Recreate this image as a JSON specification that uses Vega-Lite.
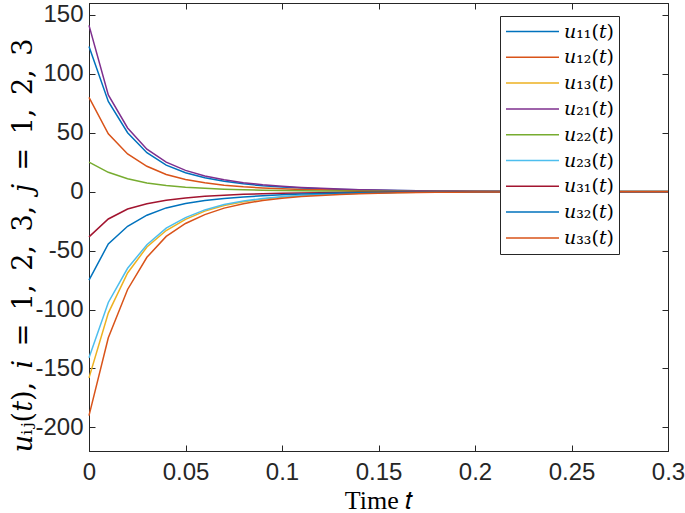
{
  "$schema": "https://vega.github.io/schema/vega-lite/v6.json",
  "width": 579,
  "height": 448,
  "autosize": "none",
  "padding": {"left": 89, "top": 3, "right": 17, "bottom": 62},
  "background": "white",
  "config": {
    "view": {"stroke": "#262626", "strokeWidth": 1},
    "axis": {
      "grid": false,
      "domainColor": "#262626",
      "tickColor": "#262626",
      "labelColor": "#262626",
      "labelFont": "Liberation Sans",
      "labelFontSize": 24,
      "labelFlush": false,
      "tickSize": -6,
      "titleFontWeight": "normal",
      "titleColor": "#000000"
    }
  },
  "data": {"values": [
    {"t":0,"s":"𝑢₁₁(𝑡)","v":123},{"t":0.01,"s":"𝑢₁₁(𝑡)","v":76.5},{"t":0.02,"s":"𝑢₁₁(𝑡)","v":50},{"t":0.03,"s":"𝑢₁₁(𝑡)","v":33},{"t":0.04,"s":"𝑢₁₁(𝑡)","v":22.5},{"t":0.05,"s":"𝑢₁₁(𝑡)","v":16},{"t":0.06,"s":"𝑢₁₁(𝑡)","v":11.8},{"t":0.07,"s":"𝑢₁₁(𝑡)","v":8.8},{"t":0.08,"s":"𝑢₁₁(𝑡)","v":6.6},{"t":0.09,"s":"𝑢₁₁(𝑡)","v":5.0},{"t":0.1,"s":"𝑢₁₁(𝑡)","v":3.9},{"t":0.11,"s":"𝑢₁₁(𝑡)","v":3.0},{"t":0.12,"s":"𝑢₁₁(𝑡)","v":2.4},{"t":0.13,"s":"𝑢₁₁(𝑡)","v":1.9},{"t":0.14,"s":"𝑢₁₁(𝑡)","v":1.5},{"t":0.15,"s":"𝑢₁₁(𝑡)","v":1.1},{"t":0.16,"s":"𝑢₁₁(𝑡)","v":0.9},{"t":0.17,"s":"𝑢₁₁(𝑡)","v":0.7},{"t":0.18,"s":"𝑢₁₁(𝑡)","v":0.5},{"t":0.19,"s":"𝑢₁₁(𝑡)","v":0.4},{"t":0.2,"s":"𝑢₁₁(𝑡)","v":0.3},{"t":0.25,"s":"𝑢₁₁(𝑡)","v":0.1},{"t":0.3,"s":"𝑢₁₁(𝑡)","v":0.05},
    {"t":0,"s":"𝑢₁₂(𝑡)","v":80},{"t":0.01,"s":"𝑢₁₂(𝑡)","v":49},{"t":0.02,"s":"𝑢₁₂(𝑡)","v":32},{"t":0.03,"s":"𝑢₁₂(𝑡)","v":21.5},{"t":0.04,"s":"𝑢₁₂(𝑡)","v":14.5},{"t":0.05,"s":"𝑢₁₂(𝑡)","v":10.3},{"t":0.06,"s":"𝑢₁₂(𝑡)","v":7.5},{"t":0.07,"s":"𝑢₁₂(𝑡)","v":5.5},{"t":0.08,"s":"𝑢₁₂(𝑡)","v":4.1},{"t":0.09,"s":"𝑢₁₂(𝑡)","v":3.1},{"t":0.1,"s":"𝑢₁₂(𝑡)","v":2.4},{"t":0.11,"s":"𝑢₁₂(𝑡)","v":1.9},{"t":0.12,"s":"𝑢₁₂(𝑡)","v":1.5},{"t":0.13,"s":"𝑢₁₂(𝑡)","v":1.2},{"t":0.14,"s":"𝑢₁₂(𝑡)","v":0.9},{"t":0.15,"s":"𝑢₁₂(𝑡)","v":0.7},{"t":0.16,"s":"𝑢₁₂(𝑡)","v":0.55},{"t":0.17,"s":"𝑢₁₂(𝑡)","v":0.45},{"t":0.18,"s":"𝑢₁₂(𝑡)","v":0.35},{"t":0.19,"s":"𝑢₁₂(𝑡)","v":0.3},{"t":0.2,"s":"𝑢₁₂(𝑡)","v":0.25},{"t":0.25,"s":"𝑢₁₂(𝑡)","v":0.1},{"t":0.3,"s":"𝑢₁₂(𝑡)","v":0.05},
    {"t":0,"s":"𝑢₁₃(𝑡)","v":-158},{"t":0.01,"s":"𝑢₁₃(𝑡)","v":-103},{"t":0.02,"s":"𝑢₁₃(𝑡)","v":-69},{"t":0.03,"s":"𝑢₁₃(𝑡)","v":-47},{"t":0.04,"s":"𝑢₁₃(𝑡)","v":-33},{"t":0.05,"s":"𝑢₁₃(𝑡)","v":-23.5},{"t":0.06,"s":"𝑢₁₃(𝑡)","v":-16.5},{"t":0.07,"s":"𝑢₁₃(𝑡)","v":-11.8},{"t":0.08,"s":"𝑢₁₃(𝑡)","v":-8.5},{"t":0.09,"s":"𝑢₁₃(𝑡)","v":-6.2},{"t":0.1,"s":"𝑢₁₃(𝑡)","v":-4.6},{"t":0.11,"s":"𝑢₁₃(𝑡)","v":-3.4},{"t":0.12,"s":"𝑢₁₃(𝑡)","v":-2.5},{"t":0.13,"s":"𝑢₁₃(𝑡)","v":-1.9},{"t":0.14,"s":"𝑢₁₃(𝑡)","v":-1.4},{"t":0.15,"s":"𝑢₁₃(𝑡)","v":-1.05},{"t":0.16,"s":"𝑢₁₃(𝑡)","v":-0.8},{"t":0.17,"s":"𝑢₁₃(𝑡)","v":-0.6},{"t":0.18,"s":"𝑢₁₃(𝑡)","v":-0.45},{"t":0.19,"s":"𝑢₁₃(𝑡)","v":-0.35},{"t":0.2,"s":"𝑢₁₃(𝑡)","v":-0.3},{"t":0.25,"s":"𝑢₁₃(𝑡)","v":-0.1},{"t":0.3,"s":"𝑢₁₃(𝑡)","v":-0.05},
    {"t":0,"s":"𝑢₂₁(𝑡)","v":141},{"t":0.01,"s":"𝑢₂₁(𝑡)","v":82},{"t":0.02,"s":"𝑢₂₁(𝑡)","v":54},{"t":0.03,"s":"𝑢₂₁(𝑡)","v":36},{"t":0.04,"s":"𝑢₂₁(𝑡)","v":25},{"t":0.05,"s":"𝑢₂₁(𝑡)","v":18},{"t":0.06,"s":"𝑢₂₁(𝑡)","v":13.3},{"t":0.07,"s":"𝑢₂₁(𝑡)","v":10},{"t":0.08,"s":"𝑢₂₁(𝑡)","v":7.6},{"t":0.09,"s":"𝑢₂₁(𝑡)","v":5.8},{"t":0.1,"s":"𝑢₂₁(𝑡)","v":4.5},{"t":0.11,"s":"𝑢₂₁(𝑡)","v":3.5},{"t":0.12,"s":"𝑢₂₁(𝑡)","v":2.8},{"t":0.13,"s":"𝑢₂₁(𝑡)","v":2.2},{"t":0.14,"s":"𝑢₂₁(𝑡)","v":1.7},{"t":0.15,"s":"𝑢₂₁(𝑡)","v":1.3},{"t":0.16,"s":"𝑢₂₁(𝑡)","v":1.0},{"t":0.17,"s":"𝑢₂₁(𝑡)","v":0.8},{"t":0.18,"s":"𝑢₂₁(𝑡)","v":0.6},{"t":0.19,"s":"𝑢₂₁(𝑡)","v":0.5},{"t":0.2,"s":"𝑢₂₁(𝑡)","v":0.4},{"t":0.25,"s":"𝑢₂₁(𝑡)","v":0.15},{"t":0.3,"s":"𝑢₂₁(𝑡)","v":0.05},
    {"t":0,"s":"𝑢₂₂(𝑡)","v":25},{"t":0.01,"s":"𝑢₂₂(𝑡)","v":16.4},{"t":0.02,"s":"𝑢₂₂(𝑡)","v":11},{"t":0.03,"s":"𝑢₂₂(𝑡)","v":7.3},{"t":0.04,"s":"𝑢₂₂(𝑡)","v":5.2},{"t":0.05,"s":"𝑢₂₂(𝑡)","v":3.8},{"t":0.06,"s":"𝑢₂₂(𝑡)","v":2.8},{"t":0.07,"s":"𝑢₂₂(𝑡)","v":2.1},{"t":0.08,"s":"𝑢₂₂(𝑡)","v":1.6},{"t":0.09,"s":"𝑢₂₂(𝑡)","v":1.2},{"t":0.1,"s":"𝑢₂₂(𝑡)","v":0.9},{"t":0.11,"s":"𝑢₂₂(𝑡)","v":0.7},{"t":0.12,"s":"𝑢₂₂(𝑡)","v":0.55},{"t":0.13,"s":"𝑢₂₂(𝑡)","v":0.45},{"t":0.14,"s":"𝑢₂₂(𝑡)","v":0.35},{"t":0.15,"s":"𝑢₂₂(𝑡)","v":0.3},{"t":0.16,"s":"𝑢₂₂(𝑡)","v":0.25},{"t":0.17,"s":"𝑢₂₂(𝑡)","v":0.2},{"t":0.18,"s":"𝑢₂₂(𝑡)","v":0.15},{"t":0.19,"s":"𝑢₂₂(𝑡)","v":0.1},{"t":0.2,"s":"𝑢₂₂(𝑡)","v":0.1},{"t":0.25,"s":"𝑢₂₂(𝑡)","v":0.05},{"t":0.3,"s":"𝑢₂₂(𝑡)","v":0.02},
    {"t":0,"s":"𝑢₂₃(𝑡)","v":-141},{"t":0.01,"s":"𝑢₂₃(𝑡)","v":-94},{"t":0.02,"s":"𝑢₂₃(𝑡)","v":-65},{"t":0.03,"s":"𝑢₂₃(𝑡)","v":-45},{"t":0.04,"s":"𝑢₂₃(𝑡)","v":-31},{"t":0.05,"s":"𝑢₂₃(𝑡)","v":-22},{"t":0.06,"s":"𝑢₂₃(𝑡)","v":-15.5},{"t":0.07,"s":"𝑢₂₃(𝑡)","v":-11},{"t":0.08,"s":"𝑢₂₃(𝑡)","v":-8},{"t":0.09,"s":"𝑢₂₃(𝑡)","v":-5.8},{"t":0.1,"s":"𝑢₂₃(𝑡)","v":-4.3},{"t":0.11,"s":"𝑢₂₃(𝑡)","v":-3.2},{"t":0.12,"s":"𝑢₂₃(𝑡)","v":-2.4},{"t":0.13,"s":"𝑢₂₃(𝑡)","v":-1.8},{"t":0.14,"s":"𝑢₂₃(𝑡)","v":-1.35},{"t":0.15,"s":"𝑢₂₃(𝑡)","v":-1.0},{"t":0.16,"s":"𝑢₂₃(𝑡)","v":-0.8},{"t":0.17,"s":"𝑢₂₃(𝑡)","v":-0.6},{"t":0.18,"s":"𝑢₂₃(𝑡)","v":-0.45},{"t":0.19,"s":"𝑢₂₃(𝑡)","v":-0.35},{"t":0.2,"s":"𝑢₂₃(𝑡)","v":-0.3},{"t":0.25,"s":"𝑢₂₃(𝑡)","v":-0.1},{"t":0.3,"s":"𝑢₂₃(𝑡)","v":-0.05},
    {"t":0,"s":"𝑢₃₁(𝑡)","v":-38.4},{"t":0.01,"s":"𝑢₃₁(𝑡)","v":-23.2},{"t":0.02,"s":"𝑢₃₁(𝑡)","v":-14.7},{"t":0.03,"s":"𝑢₃₁(𝑡)","v":-10.2},{"t":0.04,"s":"𝑢₃₁(𝑡)","v":-7.3},{"t":0.05,"s":"𝑢₃₁(𝑡)","v":-5.4},{"t":0.06,"s":"𝑢₃₁(𝑡)","v":-4.0},{"t":0.07,"s":"𝑢₃₁(𝑡)","v":-3.0},{"t":0.08,"s":"𝑢₃₁(𝑡)","v":-2.3},{"t":0.09,"s":"𝑢₃₁(𝑡)","v":-1.8},{"t":0.1,"s":"𝑢₃₁(𝑡)","v":-1.4},{"t":0.11,"s":"𝑢₃₁(𝑡)","v":-1.1},{"t":0.12,"s":"𝑢₃₁(𝑡)","v":-0.9},{"t":0.13,"s":"𝑢₃₁(𝑡)","v":-0.7},{"t":0.14,"s":"𝑢₃₁(𝑡)","v":-0.55},{"t":0.15,"s":"𝑢₃₁(𝑡)","v":-0.45},{"t":0.16,"s":"𝑢₃₁(𝑡)","v":-0.35},{"t":0.17,"s":"𝑢₃₁(𝑡)","v":-0.3},{"t":0.18,"s":"𝑢₃₁(𝑡)","v":-0.25},{"t":0.19,"s":"𝑢₃₁(𝑡)","v":-0.2},{"t":0.2,"s":"𝑢₃₁(𝑡)","v":-0.15},{"t":0.25,"s":"𝑢₃₁(𝑡)","v":-0.05},{"t":0.3,"s":"𝑢₃₁(𝑡)","v":-0.02},
    {"t":0,"s":"𝑢₃₂(𝑡)","v":-75},{"t":0.01,"s":"𝑢₃₂(𝑡)","v":-44.4},{"t":0.02,"s":"𝑢₃₂(𝑡)","v":-29.4},{"t":0.03,"s":"𝑢₃₂(𝑡)","v":-20},{"t":0.04,"s":"𝑢₃₂(𝑡)","v":-13.8},{"t":0.05,"s":"𝑢₃₂(𝑡)","v":-10.0},{"t":0.06,"s":"𝑢₃₂(𝑡)","v":-7.5},{"t":0.07,"s":"𝑢₃₂(𝑡)","v":-5.8},{"t":0.08,"s":"𝑢₃₂(𝑡)","v":-4.5},{"t":0.09,"s":"𝑢₃₂(𝑡)","v":-3.5},{"t":0.1,"s":"𝑢₃₂(𝑡)","v":-2.7},{"t":0.11,"s":"𝑢₃₂(𝑡)","v":-2.1},{"t":0.12,"s":"𝑢₃₂(𝑡)","v":-1.6},{"t":0.13,"s":"𝑢₃₂(𝑡)","v":-1.25},{"t":0.14,"s":"𝑢₃₂(𝑡)","v":-0.95},{"t":0.15,"s":"𝑢₃₂(𝑡)","v":-0.75},{"t":0.16,"s":"𝑢₃₂(𝑡)","v":-0.6},{"t":0.17,"s":"𝑢₃₂(𝑡)","v":-0.45},{"t":0.18,"s":"𝑢₃₂(𝑡)","v":-0.35},{"t":0.19,"s":"𝑢₃₂(𝑡)","v":-0.3},{"t":0.2,"s":"𝑢₃₂(𝑡)","v":-0.25},{"t":0.25,"s":"𝑢₃₂(𝑡)","v":-0.1},{"t":0.3,"s":"𝑢₃₂(𝑡)","v":-0.05},
    {"t":0,"s":"𝑢₃₃(𝑡)","v":-190},{"t":0.01,"s":"𝑢₃₃(𝑡)","v":-124},{"t":0.02,"s":"𝑢₃₃(𝑡)","v":-83},{"t":0.03,"s":"𝑢₃₃(𝑡)","v":-55.7},{"t":0.04,"s":"𝑢₃₃(𝑡)","v":-38},{"t":0.05,"s":"𝑢₃₃(𝑡)","v":-27},{"t":0.06,"s":"𝑢₃₃(𝑡)","v":-19.5},{"t":0.07,"s":"𝑢₃₃(𝑡)","v":-14},{"t":0.08,"s":"𝑢₃₃(𝑡)","v":-10.2},{"t":0.09,"s":"𝑢₃₃(𝑡)","v":-7.5},{"t":0.1,"s":"𝑢₃₃(𝑡)","v":-5.6},{"t":0.11,"s":"𝑢₃₃(𝑡)","v":-4.2},{"t":0.12,"s":"𝑢₃₃(𝑡)","v":-3.2},{"t":0.13,"s":"𝑢₃₃(𝑡)","v":-2.4},{"t":0.14,"s":"𝑢₃₃(𝑡)","v":-1.8},{"t":0.15,"s":"𝑢₃₃(𝑡)","v":-1.35},{"t":0.16,"s":"𝑢₃₃(𝑡)","v":-1.0},{"t":0.17,"s":"𝑢₃₃(𝑡)","v":-0.75},{"t":0.18,"s":"𝑢₃₃(𝑡)","v":-0.55},{"t":0.19,"s":"𝑢₃₃(𝑡)","v":-0.45},{"t":0.2,"s":"𝑢₃₃(𝑡)","v":-0.35},{"t":0.25,"s":"𝑢₃₃(𝑡)","v":-0.15},{"t":0.3,"s":"𝑢₃₃(𝑡)","v":-0.05}
  ]},
  "layer": [
    {
      "mark": {"type": "line", "strokeWidth": 1.5},
      "encoding": {
        "x": {"field": "t", "type": "quantitative", "title": "Time 𝑡",
              "scale": {"domain": [0, 0.3], "nice": false},
              "axis": {"values": [0, 0.05, 0.1, 0.15, 0.2, 0.25, 0.3], "format": "~g", "labelPadding": 15,
                       "titleFont": "Liberation Serif", "titleFontSize": 26, "titleY": 57, "titleBaseline": "alphabetic"}},
        "y": {"field": "v", "type": "quantitative", "title": "𝑢ᵢⱼ(𝑡),\u2002𝑖\u2002=\u20021,\u20022,\u20023,\u2002𝑗\u2002=\u20021,\u20022,\u20023",
              "scale": {"domain": [-220, 160], "nice": false, "zero": false},
              "axis": {"values": [-200, -150, -100, -50, 0, 50, 100, 150], "labelExpr": "'' + datum.value", "labelPadding": 12,
                       "titleFont": "DejaVu Serif", "titleFontSize": 27, "titleX": -58, "titleY": 242, "titleBaseline": "alphabetic", "titleAngle": 270}},
        "color": {"field": "s", "type": "nominal",
                  "scale": {"domain": ["𝑢₁₁(𝑡)","𝑢₁₂(𝑡)","𝑢₁₃(𝑡)","𝑢₂₁(𝑡)","𝑢₂₂(𝑡)","𝑢₂₃(𝑡)","𝑢₃₁(𝑡)","𝑢₃₂(𝑡)","𝑢₃₃(𝑡)"],
                            "range": ["#0072BD","#D95319","#EDB120","#7E2F8E","#77AC30","#4DBEEE","#A2142F","#0072BD","#D95319"]},
                  "legend": {"orient": "none", "legendX": 411, "legendY": 13, "title": null,
                             "symbolType": "stroke", "symbolSize": 2809, "symbolStrokeWidth": 1.5,
                             "clipHeight": 21, "rowPadding": 4.8, "padding": 5,
                             "strokeColor": "#262626", "fillColor": "white", "cornerRadius": 0,
                             "labelFont": "DejaVu Serif", "labelFontSize": 19,
                             "labelOffset": 4, "labelColor": "#000000"}}
      }
    },
    {
      "mark": {"type": "line", "opacity": 0},
      "encoding": {
        "x": {"field": "t", "type": "quantitative", "scale": {"domain": [0, 0.3], "nice": false},
              "axis": {"orient": "top", "values": [0, 0.05, 0.1, 0.15, 0.2, 0.25, 0.3], "labels": false, "title": null}},
        "y": {"field": "v", "type": "quantitative", "scale": {"domain": [-220, 160], "nice": false, "zero": false},
              "axis": {"orient": "right", "values": [-200, -150, -100, -50, 0, 50, 100, 150], "labels": false, "title": null}},
        "detail": {"field": "s"}
      }
    }
  ],
  "resolve": {"axis": {"x": "independent", "y": "independent"}}
}
